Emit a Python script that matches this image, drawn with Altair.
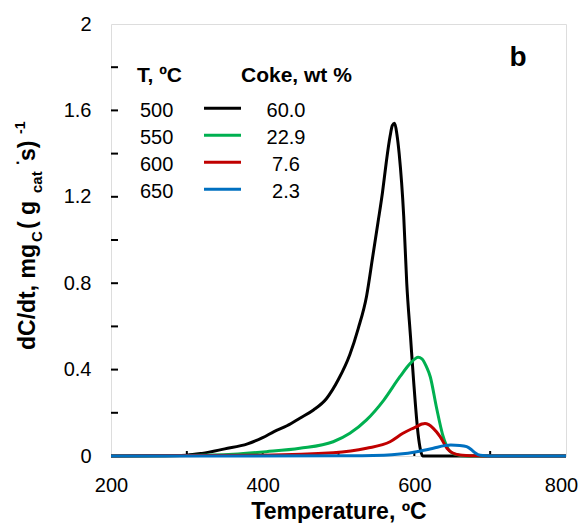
import altair as alt
import pandas as pd

# ---- data ----
series_names = ["500", "550", "600", "650"]
coke_values = ["60.0", "22.9", "7.6", "2.3"]
series_colors = ["#000000", "#00B050", "#C00000", "#0070C0"]

T_500 = [200, 250, 300, 320, 350, 380, 400, 415, 432, 449, 467, 484, 500, 515, 526, 537, 545, 552, 558, 563, 568, 571, 574, 577, 580, 586, 590, 595, 599, 605, 608, 611, 650, 700, 800]
V_500 = [0, 0.001, 0.004, 0.012, 0.033, 0.056, 0.085, 0.113, 0.140, 0.175, 0.213, 0.265, 0.355, 0.47, 0.59, 0.74, 0.92, 1.08, 1.22, 1.36, 1.48, 1.53, 1.54, 1.49, 1.40, 1.11, 0.80, 0.55, 0.35, 0.10, 0.03, 0.0, 0, 0, 0]

T_550 = [200, 300, 361, 405, 449, 493, 515, 537, 560, 581, 595, 605, 610, 616, 621, 629, 638, 645, 652, 670, 800]
V_550 = [0, 0.002, 0.008, 0.02, 0.036, 0.066, 0.105, 0.167, 0.26, 0.367, 0.43, 0.457, 0.45, 0.413, 0.367, 0.228, 0.09, 0.03, 0.01, 0, 0]

T_600 = [200, 400, 493, 537, 568, 585, 596, 603, 610, 614, 619, 625, 634, 643, 650, 660, 682, 700, 800]
V_600 = [0, 0.004, 0.015, 0.036, 0.066, 0.105, 0.125, 0.136, 0.148, 0.151, 0.145, 0.128, 0.09, 0.036, 0.015, 0.005, 0.001, 0, 0]

T_650 = [200, 500, 560, 581, 603, 625, 640, 648, 660, 669, 675, 680, 687, 700, 800]
V_650 = [0, 0.001, 0.004, 0.009, 0.02, 0.036, 0.048, 0.051, 0.049, 0.043, 0.03, 0.015, 0.003, 0, 0]

x_tick_labels = [200, 400, 600, 800]
x_minor_ticks = [300, 400, 500, 600, 700]
y_tick_labels = [0, 0.4, 0.8, 1.2, 1.6, 2]
y_minor_ticks = [0.2, 0.4, 0.6, 0.8, 1.0, 1.2, 1.4, 1.6, 1.8]

rows = []
for name, ts, vs in zip(series_names, [T_500, T_550, T_600, T_650], [V_500, V_550, V_600, V_650]):
    for t, v in zip(ts, vs):
        rows.append({"T": t, "v": v, "series": name})
df = pd.DataFrame(rows)

W, H = 455, 432
FONT = "Liberation Sans"
xscale = alt.Scale(domain=[200, 800], nice=False, zero=False)
yscale = alt.Scale(domain=[0, 2], nice=False)

lines = alt.Chart(df).mark_line(strokeWidth=3, interpolate="monotone").encode(
    x=alt.X("T:Q", scale=xscale,
            axis=alt.Axis(values=x_tick_labels, format="d", title="Temperature, ºC",
                          grid=False, domain=False, ticks=False, tickSize=0, labelFlush=False,
                          labelOffset={"condition": {"test": "datum.value == 800", "value": -5}, "value": 0},
                          labelFont=FONT, labelFontSize=20, labelColor="black", labelPadding=19,
                          titleFont=FONT, titleFontSize=23, titleFontWeight="bold",
                          titleColor="black", titlePadding=5)),
    y=alt.Y("v:Q", scale=yscale,
            axis=alt.Axis(values=y_tick_labels, format="~g", title=None, labelFlush=False,
                          grid=False, domain=False, ticks=False, tickSize=0,
                          labelFont=FONT, labelFontSize=20, labelColor="black", labelPadding=20)),
    color=alt.Color("series:N", scale=alt.Scale(domain=series_names, range=series_colors), legend=None),
)

ytick_layer = alt.Chart(pd.DataFrame({"v": y_minor_ticks})).mark_rule(color="black", strokeWidth=2).encode(
    y=alt.Y("v:Q", scale=yscale), x=alt.value(0), x2=alt.value(7))
xtick_layer = alt.Chart(pd.DataFrame({"T": x_minor_ticks})).mark_rule(color="black", strokeWidth=2).encode(
    x=alt.X("T:Q", scale=xscale), y=alt.value(H), y2=alt.value(H - 5))

layers = [ytick_layer, xtick_layer, lines]

def txt(s, x, y, size, bold=False, align="left", angle=0):
    kw = dict(text=s, font=FONT, fontSize=size, color="black", align=align, baseline="alphabetic")
    if bold:
        kw["fontWeight"] = "bold"
    if angle:
        kw["angle"] = angle
    return alt.Chart(pd.DataFrame({"a": [0]})).mark_text(**kw).encode(x=alt.value(x), y=alt.value(y))

# y-axis title with sub/superscripts (rotated)
layers += [
    txt("dC/dt, mg", -76, 326, 23, True, angle=270),
    txt("C", -69, 218, 15, True, angle=270),
    txt("( g", -76, 205, 23, True, angle=270),
    txt("cat", -69, 169, 15, True, angle=270),
    txt("·", -88, 141, 16, True, angle=270),
    txt("s)", -76, 137, 23, True, angle=270),
    txt("-1", -86, 110, 14, True, angle=270),
]

# legend
layers += [txt("T, ºC", 26, 58, 21, True), txt("Coke, wt %", 130, 58, 21, True)]
for i, (name, ck, col) in enumerate(zip(series_names, coke_values, series_colors)):
    yb = 93.3 + 27.0 * i
    layers.append(txt(name, 29, yb, 20))
    layers.append(txt(ck, 175, yb, 20, align="center"))
    layers.append(alt.Chart(pd.DataFrame({"a": [0]})).mark_rule(color=col, strokeWidth=3).encode(
        x=alt.value(93), x2=alt.value(130), y=alt.value(yb - 9)))

layers.append(txt("b", 407, 42, 28, True, align="center"))

chart = alt.layer(*layers).properties(
    width=W, height=H,
    autosize=alt.AutoSizeParams(type="none"),
    padding={"left": 103, "top": 16, "right": 13, "bottom": 67},
).configure_view(stroke="black", strokeWidth=2).configure(background="white")

chart.save("out.html", embed_options={"renderer": "svg", "actions": False})
